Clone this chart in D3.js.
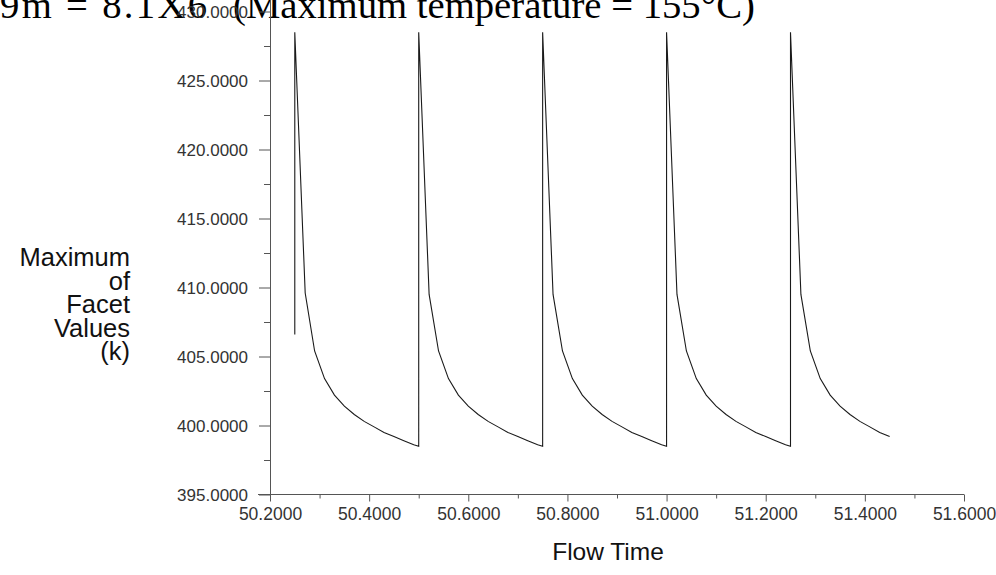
<!DOCTYPE html>
<html>
<head>
<meta charset="utf-8">
<script src="https://cdn.jsdelivr.net/npm/d3@7"></script>
<style>
  html, body { margin: 0; padding: 0; background: #fff; }
  svg { display: block; }
</style>
</head>
<body>
<svg id="chart" width="996" height="575"></svg>
<script>
// Heating cycles: each cycle restarts at a new flow time
const cycleStarts = [50.25, 50.5, 50.75, 51.0, 51.25];
// time offsets (s) within a cycle for the recorded samples
const cycleOffsets = [0, 0, 0.021, 0.04, 0.06, 0.08, 0.10, 0.12, 0.14, 0.16, 0.18, 0.20, 0.22, 0.24, 0.25];
// maximum facet temperature (K) per cycle, one array per cycle
const cycle1 = [406.6, 428.5, 409.6, 405.4, 403.4, 402.2, 401.4, 400.8, 400.3, 399.9, 399.5, 399.2, 398.9, 398.6, 398.5];
const cycle2 = [406.6, 428.5, 409.5, 405.4, 403.4, 402.2, 401.4, 400.8, 400.3, 399.9, 399.5, 399.2, 398.9, 398.6, 398.5];
const cycle3 = [406.6, 428.5, 409.5, 405.4, 403.4, 402.2, 401.4, 400.8, 400.3, 399.9, 399.5, 399.2, 398.9, 398.6, 398.5];
const cycle4 = [406.6, 428.5, 409.5, 405.4, 403.4, 402.2, 401.4, 400.8, 400.3, 399.9, 399.5, 399.2, 398.9, 398.6, 398.5];
const cycle5 = [406.6, 428.5, 409.5, 405.4, 403.4, 402.2, 401.4, 400.8, 400.3, 399.9, 399.5, 399.2];
const cycles = [cycle1, cycle2, cycle3, cycle4, cycle5];

const xTickValues = [50.2, 50.4, 50.6, 50.8, 51.0, 51.2, 51.4, 51.6];
const xMinorTicks = [50.3, 50.5, 50.7, 50.9, 51.1, 51.3, 51.5];
const yTickValues = [395, 400, 405, 410, 415, 420, 425, 430];
const yMinorTicks = [397.5, 402.5, 407.5, 412.5, 417.5, 422.5, 427.5];

const titleLeft = "9m = 8.1X6";
const titleRight = "(Maximum temperature = 155°C)";
const xTitle = "Flow Time";
const yTitleLines = ["Maximum", "of", "Facet", "Values", "(k)"];

// one continuous series through all cycles
const series = [];
cycles.forEach((vals, c) => {
  vals.forEach((v, i) => series.push({ t: cycleStarts[c] + cycleOffsets[i], v: v }));
});

const svg = d3.select("#chart");
const sans = "'Liberation Sans', Arial, sans-serif";
const serif = "'Liberation Serif', 'Times New Roman', serif";

const x = d3.scaleLinear().domain([50.2, 51.6]).range([270, 964]);
const y = d3.scaleLinear().domain([395, 430]).range([494.5, 11.5]);

// title (partly clipped at the top edge)
const title = svg.append("g").attr("font-family", serif).attr("font-size", 38.7).attr("fill", "#000");
title.append("text").attr("x", 0).attr("y", 18).attr("textLength", 207).attr("lengthAdjust", "spacing").text(titleLeft);
title.append("text").attr("x", 233).attr("y", 18).text(titleRight);

const axisColor = "#555";

// y axis
const yAxis = svg.append("g").attr("transform", "translate(270,0)")
  .call(d3.axisLeft(y).tickValues(yTickValues).tickSize(11).tickPadding(11)
    .tickFormat(d3.format(".4f")));
const yMinor = svg.append("g").attr("transform", "translate(270,0)")
  .call(d3.axisLeft(y).tickValues(yMinorTicks).tickSize(6).tickFormat(""));
[yAxis, yMinor].forEach(g => {
  g.select(".domain").remove();
  g.selectAll("line").attr("stroke", axisColor);
});
yAxis.selectAll("text").attr("font-family", sans).attr("font-size", 17).attr("fill", "#333").attr("dy", "0.35em");
svg.append("line").attr("x1", 270).attr("x2", 270).attr("y1", 0).attr("y2", y(395))
  .attr("stroke", axisColor).attr("shape-rendering", "crispEdges");

// x axis
const xAxis = svg.append("g").attr("transform", `translate(0,${y(395)})`)
  .call(d3.axisBottom(x).tickValues(xTickValues).tickSize(7).tickPadding(6)
    .tickFormat(d3.format(".4f")));
const xMinor = svg.append("g").attr("transform", `translate(0,${y(395)})`)
  .call(d3.axisBottom(x).tickValues(xMinorTicks).tickSize(4).tickFormat(""));
[xAxis, xMinor].forEach(g => {
  g.select(".domain").remove();
  g.selectAll("line").attr("stroke", axisColor);
});
xAxis.selectAll("text").attr("font-family", sans).attr("font-size", 17.5).attr("fill", "#333");
svg.append("line").attr("x1", 258).attr("x2", x(51.6)).attr("y1", y(395)).attr("y2", y(395))
  .attr("stroke", axisColor).attr("shape-rendering", "crispEdges");

// axis titles
svg.append("text").attr("x", 608).attr("y", 560).attr("text-anchor", "middle")
  .attr("font-family", sans).attr("font-size", 24.5).attr("fill", "#111").text(xTitle);
svg.append("g").selectAll("text").data(yTitleLines).join("text")
  .attr("x", 130).attr("y", (d, i) => 266 + i * 23.5)
  .attr("text-anchor", "end").attr("font-family", sans).attr("font-size", 25.5).attr("fill", "#111")
  .text(d => d);

// temperature trace
const line = d3.line().x(d => x(d.t)).y(d => y(d.v));
svg.append("path").datum(series).attr("d", line)
  .attr("fill", "none").attr("stroke", "#1a1a1a").attr("stroke-width", 1.1)
  .attr("stroke-linejoin", "miter");
</script>
</body>
</html>
